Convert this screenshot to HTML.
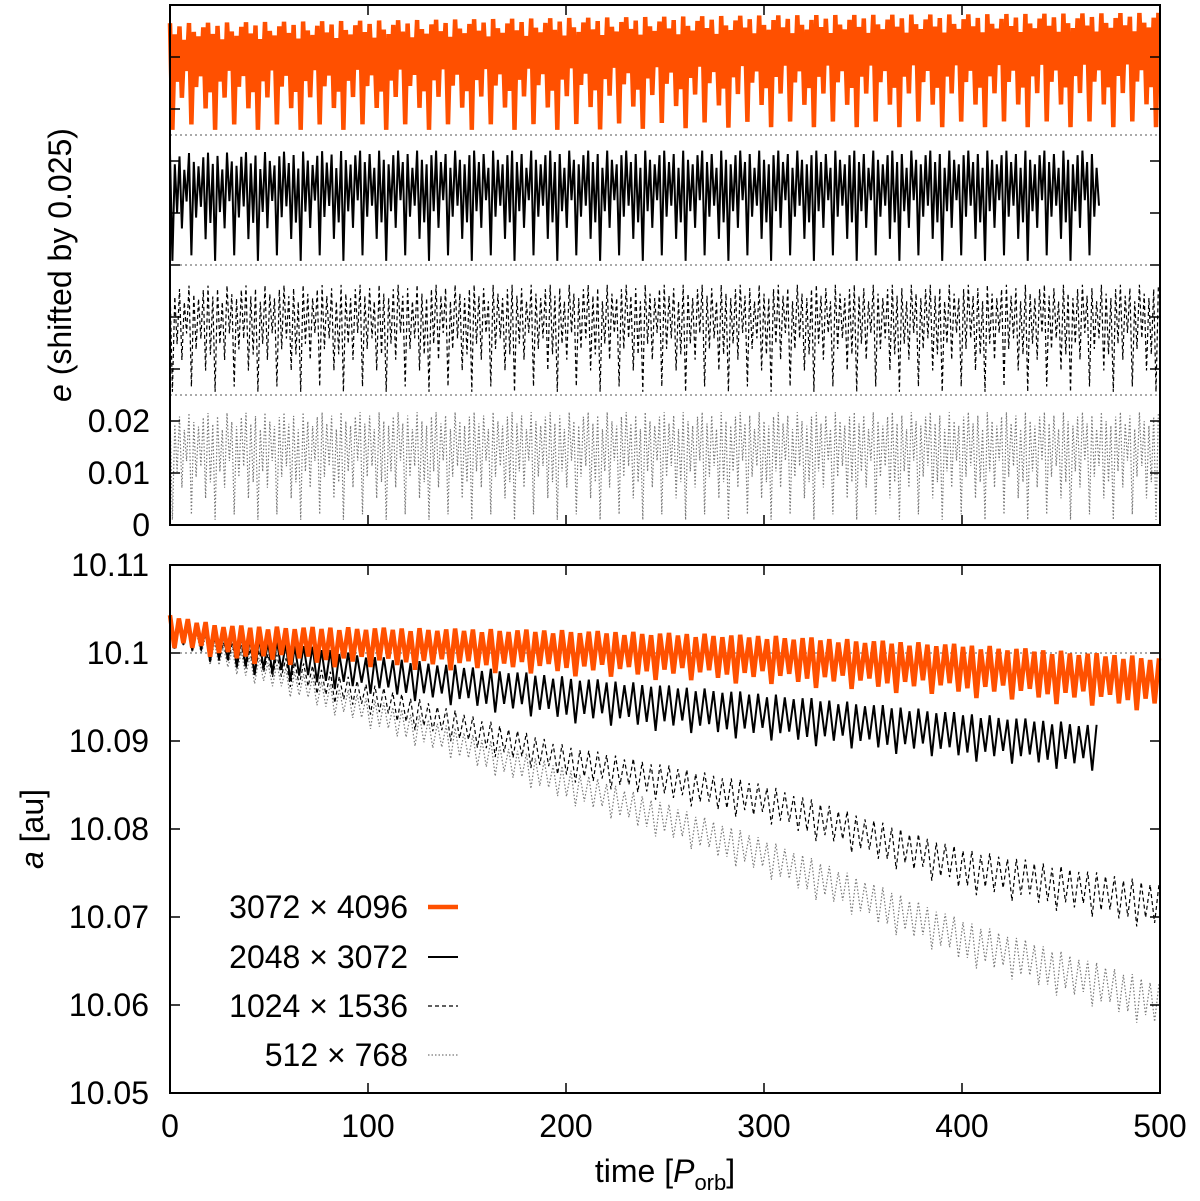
<!DOCTYPE html>
<html><head><meta charset="utf-8"><style>
html,body{margin:0;padding:0;background:#fff;}
svg text{font-family:"Liberation Sans",sans-serif;fill:#000;}
</style></head><body>
<svg id="chart" width="1200" height="1196" viewBox="0 0 1200 1196" xmlns="http://www.w3.org/2000/svg">
<g id="topPanel"></g>
<g id="botPanel"></g>
<text transform="translate(71,265) rotate(-90)" text-anchor="middle" font-size="32"><tspan font-style="italic">e</tspan> (shifted by 0.025)</text>
<text transform="translate(43,829) rotate(-90)" text-anchor="middle" font-size="32"><tspan font-style="italic">a</tspan> [au]</text>
<text x="665" y="1182" text-anchor="middle" font-size="32">time [<tspan font-style="italic">P</tspan><tspan font-size="22" dy="8">orb</tspan><tspan dy="-8">]</tspan></text>
</svg>
<script>
// ---- data ----
const xTicks = [0,100,200,300,400,500];
const eTickLabels = [0,0.01,0.02];
const aTicks = [10.05,10.06,10.07,10.08,10.09,10.1,10.11];
const seriesNames = ["3072 \u00d7 4096","2048 \u00d7 3072","1024 \u00d7 1536","512 \u00d7 768"];
const sampleTimes = [0,100,200,300,400,500];
const endTimes = [500,470,500,500];
const oscPeriod = 2.4;
const peakPattern = [1,0.9,0.97,0.85,1,0.92,0.88,0.96];
const lowPattern = [1,0.55,0.7,0.45,0.95,0.6,0.5,0.8,0.65];
// eccentricity envelope (unshifted) per series
const eMaxOrange = [0.0215,0.022,0.0225,0.023,0.0232,0.0235];
const eMinOrange = [0.001,0.001,0.001,0.0015,0.0015,0.0015];
const eMaxBlack = [0.0215,0.022,0.022,0.022,0.022,0.022];
const eMinBlack = [0.0008,0.0008,0.0008,0.0008,0.0008,0.0008];
const eMaxDash = [0.021,0.0212,0.0212,0.0212,0.0212,0.0212];
const eMinDash = [0.0006,0.0006,0.0006,0.0006,0.0006,0.0006];
const eMaxDot = [0.0215,0.0217,0.0217,0.0217,0.0217,0.0217];
const eMinDot = [0.001,0.001,0.001,0.001,0.001,0.001];
const eShift = [0.075,0.05,0.025,0];
// semi-major axis mean & half-amplitude per series
const aTimes = [0,25,50,100,200,300,400,500];
const aMeanOrange = [10.1025,10.1012,10.1008,10.1006,10.1000,10.0992,10.0980,10.0964];
const aAmpOrange = [0.0018,0.002,0.0022,0.0023,0.0026,0.0028,0.003,0.0031];
const aMeanBlack = [10.1025,10.1005,10.0993,10.0975,10.0947,10.0927,10.0905,10.0885];
const aAmpBlack = [0.0018,0.002,0.0022,0.0022,0.0026,0.0027,0.0027,0.0027];
const aMeanDash = [10.1025,10.1,10.0985,10.0948,10.0875,10.0829,10.0753,10.0711];
const aAmpDash = [0.0015,0.0015,0.0016,0.0018,0.002,0.0022,0.0025,0.0027];
const aMeanDot = [10.1025,10.0995,10.0975,10.0932,10.085,10.0767,10.0672,10.0598];
const aAmpDot = [0.0015,0.0015,0.0016,0.0018,0.002,0.0022,0.0025,0.0027];

// ---- geometry ----
const L=170,R=1160,T1=5,B1=525,T2=565,B2=1093;
const xS=t=>L+(t/500)*(R-L);
const yE=e=>B1-e*5200;
const yA=a=>B2-(a-10.05)/0.06*(B2-T2);
const NS="http://www.w3.org/2000/svg";
function el(tag,attrs,parent){const e=document.createElementNS(NS,tag);for(const k in attrs)e.setAttribute(k,attrs[k]);parent.appendChild(e);return e;}
function interp(ts,vs,t){for(let i=0;i<ts.length-1;i++){if(t<=ts[i+1]){const f=(t-ts[i])/(ts[i+1]-ts[i]);return vs[i]+f*(vs[i+1]-vs[i]);}}return vs[vs.length-1];}
const styles=[
 {stroke:"#ff5000",w:4.5,dash:null},
 {stroke:"#000",w:2,dash:null},
 {stroke:"#000",w:1.2,dash:"4,3"},
 {stroke:"#777",w:1.2,dash:"1.5,2"}];
const topG=document.getElementById('topPanel'),botG=document.getElementById('botPanel');

// reference dotted lines
[0.025,0.05,0.075].forEach(v=>{
 const l=el('line',{x1:L,x2:R,y1:yE(v),y2:yE(v),stroke:'#555','stroke-width':1,'stroke-dasharray':'2,3'},topG);
 
 
});
{const l=el('line',{x1:L,x2:R,y1:yA(10.1),y2:yA(10.1),stroke:'#555','stroke-width':1,'stroke-dasharray':'2,3'},botG);
 
 }

// e series
const eMaxs=[eMaxOrange,eMaxBlack,eMaxDash,eMaxDot],eMins=[eMinOrange,eMinBlack,eMinDash,eMinDot];
const eNames=['e-series-3072','e-series-2048','e-series-1024','e-series-512'];
for(let s=3;s>=0;s--){
 const pts=[];let k=0;
 for(let t=0;t<=endTimes[s]+1e-9;t+=oscPeriod/2,k++){
  const mx=interp(sampleTimes,eMaxs[s],t),mn=interp(sampleTimes,eMins[s],t);
  let v;
  if(k%2===0) v=mx*peakPattern[(k/2)%peakPattern.length];
  else v=mx-(mx-mn)*lowPattern[((k-1)/2)%lowPattern.length];
  pts.push(xS(t).toFixed(1)+','+yE(v+eShift[s]).toFixed(1));
 }
 const a={points:pts.join(' '),fill:'none',stroke:styles[s].stroke,'stroke-width':styles[s].w,'stroke-linejoin':'miter'};
 if(styles[s].dash)a['stroke-dasharray']=styles[s].dash;
 const p=el('polyline',a,topG);
 
 
}
// a series
const aMeans=[aMeanOrange,aMeanBlack,aMeanDash,aMeanDot],aAmps=[aAmpOrange,aAmpBlack,aAmpDash,aAmpDot];
const aNames=['a-series-3072','a-series-2048','a-series-1024','a-series-512'];
const aPer=4.5;
for(let s=3;s>=0;s--){
 const pts=[];let k=0;
 for(let t=0;t<=endTimes[s]+1e-9;t+=aPer/2,k++){
  const m=interp(aTimes,aMeans[s],t),am=interp(aTimes,aAmps[s],t);
  const f=(k%2===0)?peakPattern[(k/2)%peakPattern.length]:-lowPattern[((k-1)/2)%lowPattern.length];
  pts.push(xS(t).toFixed(1)+','+yA(m+am*f).toFixed(1));
 }
 const a={points:pts.join(' '),fill:'none',stroke:styles[s].stroke,'stroke-width':styles[s].w};
 if(styles[s].dash)a['stroke-dasharray']=styles[s].dash;
 const p=el('polyline',a,botG);
 
 
}

// frames & ticks
[[T1,B1,topG],[T2,B2,botG]].forEach(([t,b,g])=>{
 const r=el('rect',{x:L,y:t,width:R-L,height:b-t,fill:'none',stroke:'#000','stroke-width':2},g);
 
 
 xTicks.forEach(v=>{
  el('line',{x1:xS(v),x2:xS(v),y1:b,y2:b-10,stroke:'#000','stroke-width':1.5},g);
  el('line',{x1:xS(v),x2:xS(v),y1:t,y2:t+10,stroke:'#000','stroke-width':1.5},g);
 });
});
for(let i=0;i<=10;i++){const y=yE(i*0.01);
 el('line',{x1:L,x2:L+10,y1:y,y2:y,stroke:'#000','stroke-width':1.5},topG);
 el('line',{x1:R,x2:R-10,y1:y,y2:y,stroke:'#000','stroke-width':1.5},topG);}
eTickLabels.forEach(v=>{
 const tx=el('text',{x:150,y:yE(v)+11,'text-anchor':'end','font-size':32},topG);
 tx.textContent=String(v);
 
 
});
aTicks.forEach(v=>{const y=yA(v);
 el('line',{x1:L,x2:L+10,y1:y,y2:y,stroke:'#000','stroke-width':1.5},botG);
 el('line',{x1:R,x2:R-10,y1:y,y2:y,stroke:'#000','stroke-width':1.5},botG);
 const tx=el('text',{x:149,y:y+11,'text-anchor':'end','font-size':32},botG);
 tx.textContent=(Math.round(v*100)/100).toString();
 
 
});
xTicks.forEach(v=>{
 const tx=el('text',{x:xS(v),y:1137,'text-anchor':'middle','font-size':32},botG);
 tx.textContent=String(v);
 
 
});
// legend
const legY=[907,957,1006,1055];
seriesNames.forEach((n,i)=>{
 const g=el('g',{},botG);
 
 
 const tx=el('text',{x:408,y:legY[i]+11,'text-anchor':'end','font-size':32},g);
 tx.textContent=n;
 const a={x1:428,x2:458,y1:legY[i],y2:legY[i],stroke:styles[i].stroke,'stroke-width':styles[i].w};
 if(styles[i].dash)a['stroke-dasharray']=styles[i].dash;
 el('line',a,g);
});
</script>
</body></html>
